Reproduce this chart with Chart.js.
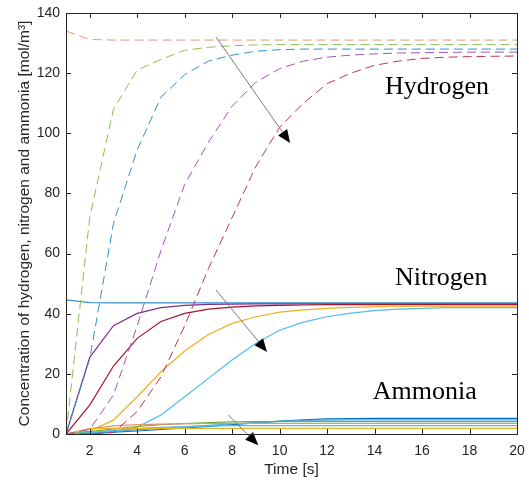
<!DOCTYPE html>
<html>
<head>
<meta charset="utf-8">
<script src="https://cdn.jsdelivr.net/npm/chart.js@4.4.0/dist/chart.umd.min.js"></script>
<style>
  html, body { margin: 0; padding: 0; background: #fff; }
  #wrap { width: 529px; height: 482px; }
</style>
</head>
<body>
<div id="wrap"><canvas id="chart"></canvas></div>
<script>
// ── Data ─────────────────────────────────────────────────────────────────────
const timeSteps   = [1, 2, 3, 4, 5, 6, 7, 8, 9, 10, 11, 12, 13, 14, 15, 16, 17, 18, 19, 20]
const xTickValues = [2, 4, 6, 8, 10, 12, 14, 16, 18, 20]
const yTickValues = [0, 20, 40, 60, 80, 100, 120, 140]

// hydrogen (dashed)
const h2Orange = [134, 131.2, 131, 131, 131, 131, 131, 131, 131, 131, 131, 131, 131, 131, 131, 131, 131, 131, 131, 131]
const h2Green  = [0, 72, 108, 121, 124.6, 127.6, 128.6, 129.1, 129.4, 129.5, 129.5, 129.5, 129.5, 129.5, 129.5, 129.5, 129.5, 129.5, 129.5, 129.5]
const h2Blue   = [0, 25, 70, 94.5, 112, 119.5, 124, 126, 127.3, 127.8, 128, 128, 128, 128, 128, 128, 128, 128, 128, 128]
const h2Purple = [0, 1.5, 13, 36, 61, 83, 97, 109, 117, 121.5, 124, 125.3, 126, 126.4, 126.7, 126.8, 126.9, 127, 127, 127]
const h2Red    = [0, 0, 0.5, 7.5, 19, 36, 55, 72, 89, 102, 110, 116.5, 120, 122.6, 124, 124.9, 125.3, 125.5, 125.6, 125.7]

// nitrogen (solid)
const n2Blue   = [44.6, 43.7, 43.6, 43.6, 43.6, 43.6, 43.6, 43.6, 43.6, 43.6, 43.6, 43.6, 43.6, 43.6, 43.6, 43.6, 43.6, 43.6, 43.6, 43.6]
const n2Purple = [0, 25.5, 36, 40.1, 42, 42.8, 43.1, 43.2, 43.3, 43.3, 43.3, 43.3, 43.3, 43.3, 43.3, 43.3, 43.3, 43.3, 43.3, 43.3]
const n2Red    = [0, 9.6, 22.6, 31.8, 37.4, 40.1, 41.5, 42.2, 42.6, 42.8, 42.9, 43, 43, 43, 43, 43, 43, 43, 43, 43]
const n2Yellow = [0, 1, 4.6, 12.4, 20.7, 27.6, 33.1, 36.8, 39, 40.5, 41.3, 41.8, 42.1, 42.3, 42.4, 42.5, 42.5, 42.5, 42.5, 42.5]
const n2Cyan   = [0, 0, 0.5, 2.3, 6.3, 12.4, 18.5, 24.6, 30.2, 34.5, 37.2, 39, 40.2, 41, 41.5, 41.8, 42, 42, 42, 42]

// ammonia (solid)
const nh3DarkBlue  = [0, 0.3, 0.6, 1.0, 1.5, 2.0, 2.5, 3.1, 3.7, 4.3, 4.7, 5.0, 5.1, 5.2, 5.2, 5.2, 5.2, 5.2, 5.2, 5.2]
const nh3LightBlue = [0, 0.4, 0.9, 1.4, 1.9, 2.4, 2.9, 3.4, 3.8, 4.2, 4.5, 4.6, 4.7, 4.7, 4.7, 4.7, 4.7, 4.7, 4.7, 4.7]
const nh3Green     = [0, 0.8, 1.7, 2.5, 3.1, 3.5, 3.8, 4.0, 4.1, 4.1, 4.1, 4.1, 4.1, 4.1, 4.1, 4.1, 4.1, 4.1, 4.1, 4.1]
const nh3Salmon    = [0, 1.8, 2.7, 3.1, 3.3, 3.4, 3.5, 3.5, 3.5, 3.5, 3.5, 3.5, 3.5, 3.5, 3.5, 3.5, 3.5, 3.5, 3.5, 3.5]
const nh3Cyan      = [0, 0.5, 1.2, 1.8, 2.2, 2.5, 2.7, 2.8, 2.8, 2.8, 2.8, 2.8, 2.8, 2.8, 2.8, 2.8, 2.8, 2.8, 2.8, 2.8]
const nh3Yellow    = [0, 1.8, 1.9, 1.9, 1.9, 1.9, 1.9, 1.9, 1.9, 1.9, 1.9, 1.9, 1.9, 1.9, 1.9, 1.9, 1.9, 1.9, 1.9, 1.9]

// annotations (data coordinates)
const arrowLines = [
  { from: [7.32, 132], to: [10.44, 96.8] },
  { from: [7.32, 47.9], to: [9.47, 27.3] },
  { from: [7.84, 6.3], to: [9.1, -3.7] },
]
const speciesLabels = [
  { text: 'Hydrogen', x: 14.44, y: 113 },
  { text: 'Nitrogen', x: 14.86, y: 49.6 },
  { text: 'Ammonia',  x: 13.92, y: 11.6 },
]

// ── Helpers ──────────────────────────────────────────────────────────────────
const AXIS = '#262626'
const toPoints = ys => ys.map((y, i) => ({ x: timeSteps[i], y }))

const dashed = (values, color) => ({
  data: toPoints(values), xAxisID: 'x', yAxisID: 'y', borderColor: color, borderWidth: 1,
  borderDash: [9, 5], pointRadius: 0, tension: 0, fill: false,
})
const solid = (values, color) => ({
  data: toPoints(values), xAxisID: 'x', yAxisID: 'y', borderColor: color, borderWidth: 1.2,
  pointRadius: 0, tension: 0, fill: false,
})

// arrows + labels on top of the lines
const annotPlugin = {
  id: 'annot',
  afterDatasetsDraw(chart) {
    const { ctx, scales } = chart
    const sx = scales.x, sy = scales.y
    ctx.save()
    ctx.setLineDash([])
    arrowLines.forEach(ar => {
      const x0 = sx.getPixelForValue(ar.from[0]), y0 = sy.getPixelForValue(ar.from[1])
      const x1 = sx.getPixelForValue(ar.to[0]),   y1 = sy.getPixelForValue(ar.to[1])
      const ang = Math.atan2(y1 - y0, x1 - x0)
      const hl = 13, hw = 5.5
      const bx = x1 - hl * Math.cos(ang), by = y1 - hl * Math.sin(ang)
      ctx.strokeStyle = '#7a7a7a'
      ctx.lineWidth = 1
      ctx.beginPath(); ctx.moveTo(x0, y0); ctx.lineTo(bx, by); ctx.stroke()
      ctx.fillStyle = '#000'
      ctx.beginPath()
      ctx.moveTo(x1, y1)
      ctx.lineTo(bx + hw * Math.sin(ang), by - hw * Math.cos(ang))
      ctx.lineTo(bx - hw * Math.sin(ang), by + hw * Math.cos(ang))
      ctx.closePath(); ctx.fill()
    })

    ctx.fillStyle = '#000'
    ctx.font = '26px "Liberation Serif", "Times New Roman", serif'
    ctx.textAlign = 'left'
    ctx.textBaseline = 'alphabetic'
    speciesLabels.forEach(l => {
      ctx.fillText(l.text, sx.getPixelForValue(l.x), sy.getPixelForValue(l.y))
    })
    ctx.restore()
  },
}

// box frame + inward ticks (MATLAB style), drawn last
const framePlugin = {
  id: 'frame',
  afterDraw(chart) {
    const { ctx, scales } = chart
    const sx = scales.x, sy = scales.y
    const L = Math.round(sx.getPixelForValue(sx.min))
    const R = Math.round(sx.getPixelForValue(sx.max))
    const T = Math.round(sy.getPixelForValue(sy.max))
    const B = Math.round(sy.getPixelForValue(sy.min))
    const tl = 5
    ctx.save()
    ctx.globalAlpha = 1
    ctx.globalCompositeOperation = 'source-over'
    ctx.fillStyle = AXIS
    ctx.fillRect(L, T, R - L + 1, 1)
    ctx.fillRect(L, B, R - L + 1, 1)
    ctx.fillRect(L, T, 1, B - T + 1)
    ctx.fillRect(R, T, 1, B - T + 1)
    xTickValues.forEach(v => {
      const px = Math.round(sx.getPixelForValue(v))
      ctx.fillRect(px, B - tl, 1, tl)
      ctx.fillRect(px, T, 1, tl)
    })
    yTickValues.forEach(v => {
      const py = Math.round(sy.getPixelForValue(v))
      ctx.fillRect(L, py, tl, 1)
      ctx.fillRect(R - tl, py, tl, 1)
    })
    ctx.restore()
  },
}

// ── Axes ─────────────────────────────────────────────────────────────────────
const tickFont  = { family: "'Liberation Sans', Arial, sans-serif", size: 14 }
const titleFont = { family: "'Liberation Sans', Arial, sans-serif", size: 15.5 }
const noGrid = { display: false, drawTicks: false }
const setX = s => { s.ticks = xTickValues.map(v => ({ value: v })) }
const setY = s => { s.ticks = yTickValues.map(v => ({ value: v })) }

new Chart(document.getElementById('chart'), {
  type: 'line',
  data: {
    datasets: [
      dashed(h2Orange, '#F0926C'),
      dashed(h2Green,  '#8CBF4E'),
      dashed(h2Blue,   '#2F8FD3'),
      dashed(h2Purple, '#A453B8'),
      dashed(h2Red,    '#C4324F'),
      solid(nh3Yellow,    '#EDB120'),
      solid(nh3Cyan,      '#4DBEEE'),
      solid(nh3Salmon,    '#E8956F'),
      solid(nh3Green,     '#77AC30'),
      solid(nh3LightBlue, '#5AA7DE'),
      solid(nh3DarkBlue,  '#0072BD'),
      solid(n2Cyan,   '#4DBEEE'),
      solid(n2Yellow, '#EDB120'),
      solid(n2Red,    '#A2142F'),
      solid(n2Purple, '#7E2F8E'),
      solid(n2Blue,   '#3A8FD0'),
    ],
  },
  options: {
    responsive: true,
    maintainAspectRatio: false,
    animation: false,
    layout: { padding: { top: 13, right: 12, left: 0, bottom: 0 } },
    plugins: { legend: { display: false }, tooltip: { enabled: false } },
    scales: {
      x: {
        type: 'linear', position: 'bottom', min: 1, max: 20,
        afterBuildTicks: setX,
        afterFit: s => { s.height = 48; s.paddingLeft = 0; s.paddingRight = 0 },
        grid: noGrid, border: { display: true, color: AXIS, width: 1 },
        ticks: { color: AXIS, font: tickFont, padding: 9, maxRotation: 0 },
        title: { display: true, text: 'Time [s]', color: AXIS, font: titleFont, padding: { top: 0, bottom: 3 } },
      },
      y: {
        type: 'linear', position: 'left', min: 0, max: 140,
        afterBuildTicks: setY,
        afterFit: s => { s.width = 66; s.paddingTop = 0; s.paddingBottom = 0 },
        grid: noGrid, border: { display: true, color: AXIS, width: 1 },
        ticks: { color: AXIS, font: tickFont, padding: 6 },
        title: {
          display: true, text: 'Concentration of hydrogen, nitrogen and ammonia [mol/m³]',
          color: AXIS, font: titleFont, padding: { top: 15, bottom: 0 },
        },
      },
    },
  },
  plugins: [annotPlugin, framePlugin],
})
</script>
</body>
</html>
